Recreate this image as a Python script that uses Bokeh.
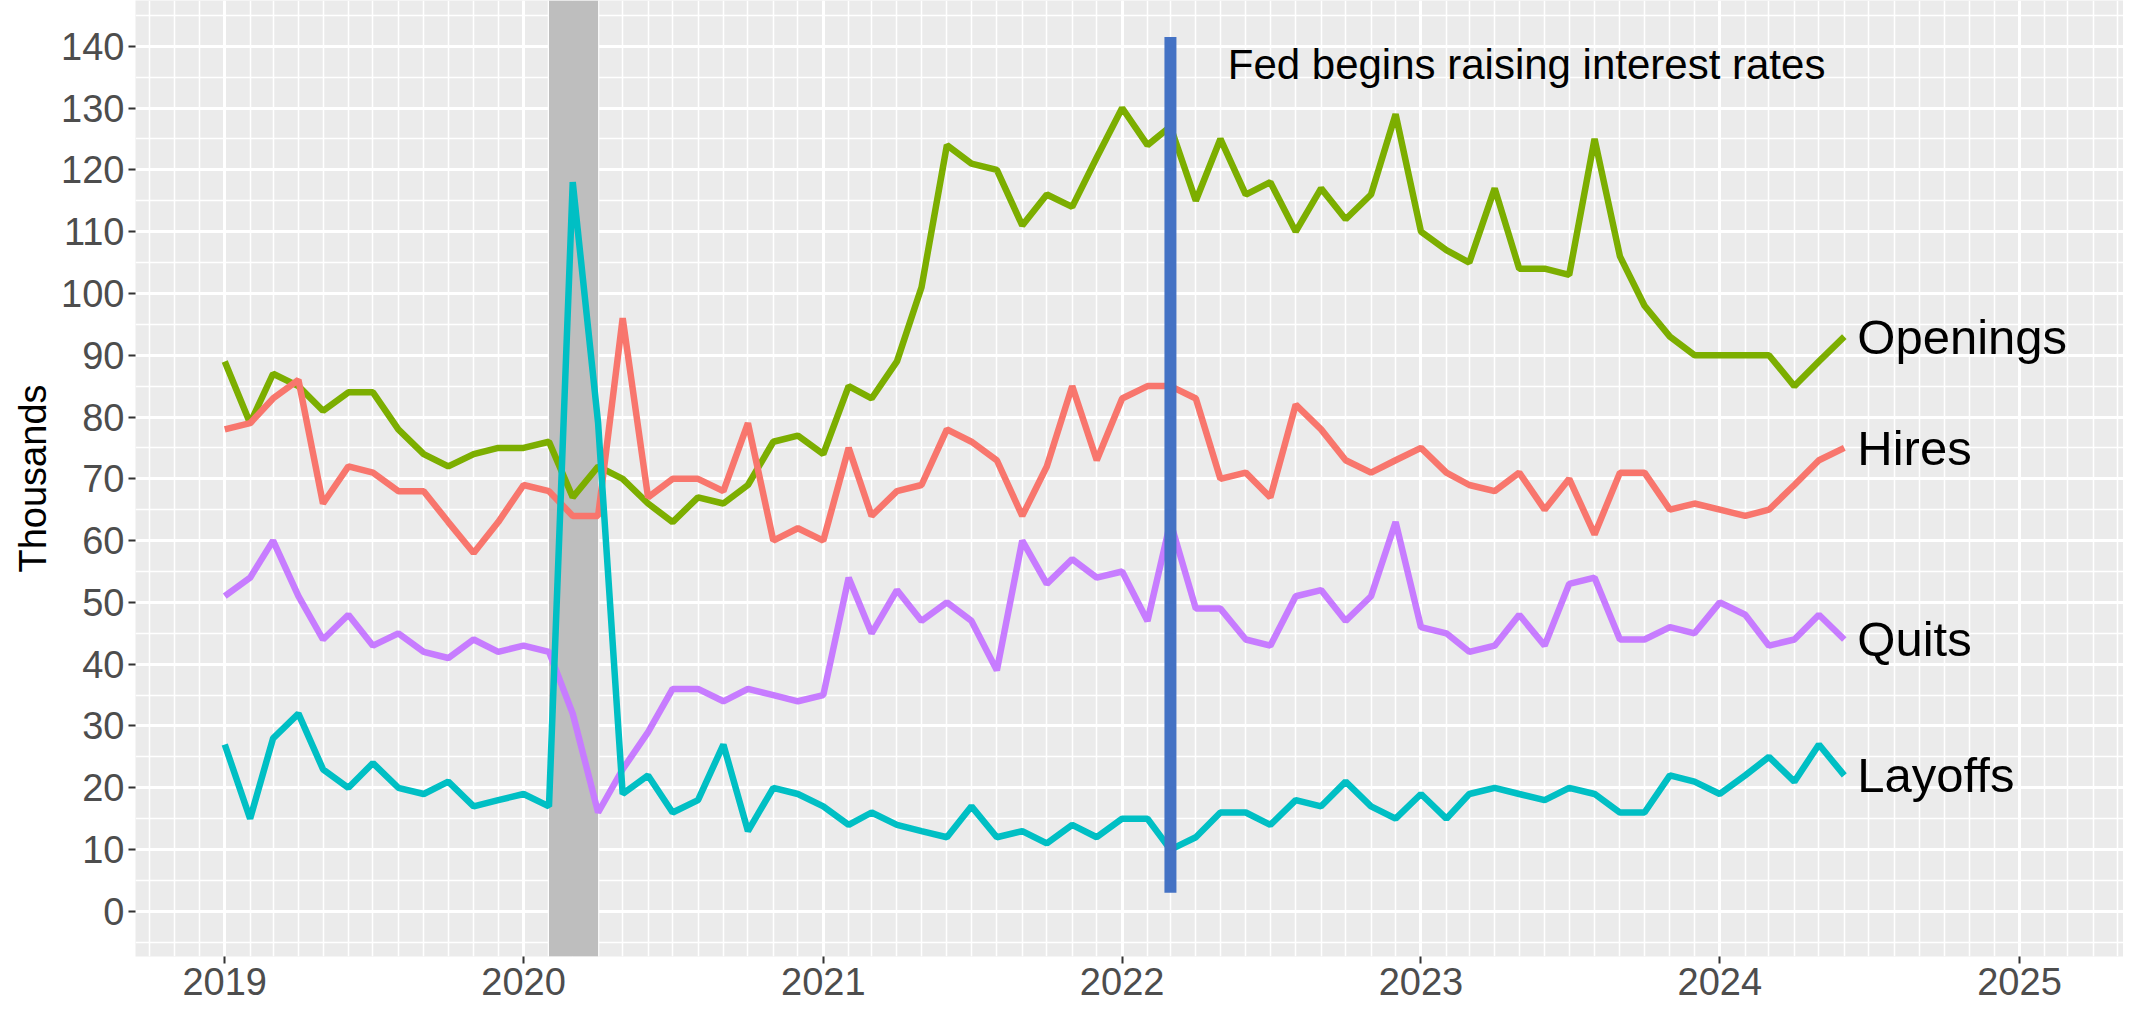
import pandas as pd
from bokeh.plotting import figure
from bokeh.models import Range1d, FixedTicker, DatetimeTickFormatter, BoxAnnotation, ColumnDataSource
from bokeh.core.properties import value
from bokeh.embed import file_html
from bokeh.resources import INLINE

# ---------------- data ----------------
start_month = "2019-01-01"
n_months = 66
openings = [89, 79, 87, 85, 81, 84, 84, 78, 74, 72, 74, 75,
            75, 76, 67, 72, 70, 66, 63, 67, 66, 69, 76, 77,
            74, 85, 83, 89, 101, 124, 121, 120, 111, 116, 114, 122,
            130, 124, 127, 115, 125, 116, 118, 110, 117, 112, 116, 129,
            110, 107, 105, 117, 104, 104, 103, 125, 106, 98, 93, 90,
            90, 90, 90, 85, 89, 93]
hires = [78, 79, 83, 86, 66, 72, 71, 68, 68, 63, 58, 63,
         69, 68, 64, 64, 96, 67, 70, 70, 68, 79, 60, 62,
         60, 75, 64, 68, 69, 78, 76, 73, 64, 72, 85, 73,
         83, 85, 85, 83, 70, 71, 67, 82, 78, 73, 71, 73,
         75, 71, 69, 68, 71, 65, 70, 61, 71, 71, 65, 66,
         65, 64, 65, 69, 73, 75]
quits = [51, 54, 60, 51, 44, 48, 43, 45, 42, 41, 44, 42,
         43, 42, 32, 16, 23, 29, 36, 36, 34, 36, 35, 34,
         35, 54, 45, 52, 47, 50, 47, 39, 60, 53, 57, 54,
         55, 47, 63, 49, 49, 44, 43, 51, 52, 47, 51, 63,
         46, 45, 42, 43, 48, 43, 53, 54, 44, 44, 46, 45,
         50, 48, 43, 44, 48, 44]
layoffs = [27, 15, 28, 32, 23, 20, 24, 20, 19, 21, 17, 18,
           19, 17, 118, 79, 19, 22, 16, 18, 27, 13, 20, 19,
           17, 14, 16, 14, 13, 12, 17, 12, 13, 11, 14, 12,
           15, 15, 10, 12, 16, 16, 14, 18, 17, 21, 17, 15,
           19, 15, 19, 20, 19, 18, 20, 19, 16, 16, 22, 21,
           19, 22, 25, 21, 27, 22]
series_names = ["Openings", "Hires", "Quits", "Layoffs"]
series_colors = ["#7CAE00", "#F8766D", "#C77CFF", "#00BFC4"]

year_ticks = ["2019", "2020", "2021", "2022", "2023", "2024", "2025"]
y_ticks = [0, 10, 20, 30, 40, 50, 60, 70, 80, 90, 100, 110, 120, 130, 140]

recession_start = "2020-02-01"
recession_end = "2020-04-01"
fed_date = "2022-03-01"
fed_seg_bottom = 3
fed_seg_top = 141.5
fed_label = "Fed begins raising interest rates"
fed_label_date = "2022-05-10"
fed_label_y = 137

x_start = "2018-09-14"
x_end = "2025-05-08"
y_start, y_end = -7.3, 147.4


def ms(d):
    return pd.Timestamp(d).value / 1e6


months = pd.date_range(start_month, periods=n_months, freq="MS")
month_ms = [ms(d) for d in months]

# ---------------- figure ----------------
FONT = "Liberation Sans"
p = figure(width=2123, height=1003, x_axis_type="datetime",
           output_backend="svg", toolbar_location=None,
           x_range=Range1d(ms(x_start), ms(x_end)),
           y_range=Range1d(y_start, y_end),
           min_border_left=135, min_border_right=0,
           min_border_top=0, min_border_bottom=47)
p.background_fill_color = "#EBEBEB"
p.border_fill_color = "white"
p.outline_line_color = None

# axes / ticks
x_major = [ms(y + "-01-01") for y in year_ticks]
x_minor = [ms(d) for d in pd.date_range("2018-09-01", "2025-06-01", freq="MS")]
p.xaxis.ticker = FixedTicker(ticks=x_major, minor_ticks=x_minor)
p.xaxis.formatter = DatetimeTickFormatter(years="%Y", months="%Y", days="%Y")
p.yaxis.ticker = FixedTicker(ticks=y_ticks, minor_ticks=[t + 5 for t in range(-10, 150, 10)])

for ax in (p.xaxis, p.yaxis):
    ax.axis_line_color = None
    ax.major_tick_line_color = "#333333"
    ax.major_tick_line_width = 2
    ax.major_tick_out = 7
    ax.major_tick_in = 0
    ax.minor_tick_line_color = None
    ax.major_label_text_font = FONT
    ax.major_label_text_font_size = "38px"
    ax.major_label_text_color = "#4D4D4D"
    ax.major_label_standoff = 4
p.yaxis.axis_label = "Thousands"
p.yaxis.axis_label_text_font = FONT
p.yaxis.axis_label_text_font_size = "38px"
p.yaxis.axis_label_text_font_style = "normal"
p.yaxis.axis_label_text_color = "black"
p.yaxis.axis_label_standoff = 4

for g in (p.xgrid, p.ygrid):
    g.grid_line_color = "white"
    g.grid_line_width = 3
    g.minor_grid_line_color = "white"
    g.minor_grid_line_width = 1.5

# recession shading
p.add_layout(BoxAnnotation(left=ms(recession_start), right=ms(recession_end),
                           fill_color="#BEBEBE", fill_alpha=1.0,
                           line_color=None, level="underlay"))

# series
all_vals = [openings, hires, quits, layoffs]
for name, col, vals in zip(series_names, series_colors, all_vals):
    src = ColumnDataSource(dict(x=month_ms, y=vals))
    p.line("x", "y", source=src, line_color=col, line_width=6.5)

# Fed vertical segment
p.segment(x0=[ms(fed_date)], y0=[fed_seg_bottom], x1=[ms(fed_date)], y1=[fed_seg_top],
          line_color="#4472C4", line_width=12)

# series end labels
p.text(x=[month_ms[-1]] * 4, y=[v[-1] for v in all_vals], text=series_names,
       x_offset=13, text_align="left", text_baseline="middle",
       text_font=value(FONT), text_font_size="49px", text_color="black")

p.text(x=[ms(fed_label_date)], y=[fed_label_y], text=[fed_label],
       text_align="left", text_baseline="middle",
       text_font=value(FONT), text_font_size="42px", text_color="black")

open("out.html", "w").write(file_html(p, INLINE))
